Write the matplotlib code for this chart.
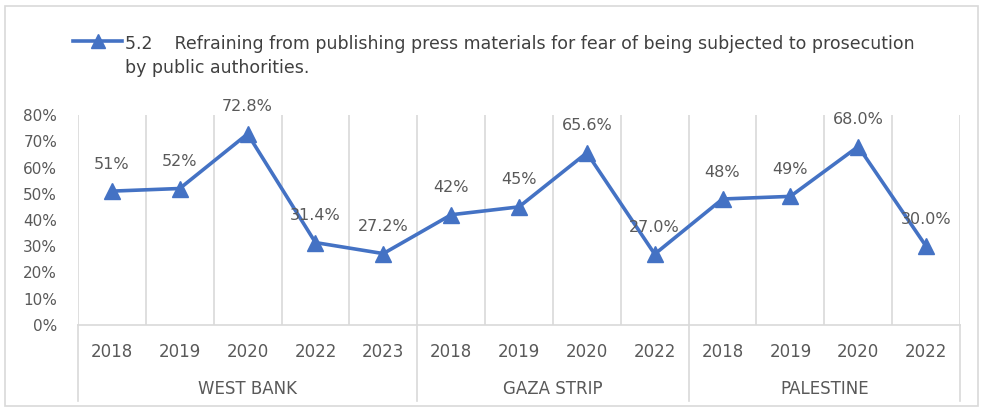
import matplotlib.pyplot as plt
from matplotlib.lines import Line2D
from matplotlib.patches import Rectangle

# data
years = ['2018', '2019', '2020', '2022', '2023',
         '2018', '2019', '2020', '2022',
         '2018', '2019', '2020', '2022']
groups = ['WEST BANK', 'GAZA STRIP', 'PALESTINE']
group_sizes = [5, 4, 4]
values = [0.51, 0.52, 0.728, 0.314, 0.272,
          0.42, 0.45, 0.656, 0.27,
          0.48, 0.49, 0.68, 0.30]
value_labels = ['51%', '52%', '72.8%', '31.4%', '27.2%',
                '42%', '45%', '65.6%', '27.0%',
                '48%', '49%', '68.0%', '30.0%']
series_lines = ['5.2    Refraining from publishing press materials for fear of being subjected to prosecution',
                'by public authorities.']

blue = '#4472C4'
grid_c = '#D9D9D9'
txt_c = '#595959'

plt.rcParams['font.family'] = ['DejaVu Sans']

fig = plt.figure(figsize=(9.85, 4.12), dpi=100)
ax = fig.add_axes([78 / 985, 1 - 325 / 412, (960 - 78) / 985, (325 - 115) / 412])

x = list(range(len(values)))
ax.plot(x, values, color=blue, lw=2.6, marker='^', ms=11, zorder=3)
for xi, v, lab in zip(x, values, value_labels):
    ax.annotate(lab, (xi, v), xytext=(0, 14), textcoords='offset points',
                ha='center', va='bottom', fontsize=11.5, color=txt_c)

ax.set_xlim(-0.5, len(values) - 0.5)
ax.set_ylim(0, 0.8)
ax.set_yticks([i / 10 for i in range(9)])
ax.set_yticklabels([f'{i * 10}%' for i in range(9)], fontsize=11, color=txt_c)
ax.tick_params(axis='y', length=0, pad=15)
ax.set_xticks([])
for s in ['top', 'right', 'left']:
    ax.spines[s].set_visible(False)
ax.spines['bottom'].set_color(grid_c)
ax.spines['bottom'].set_linewidth(1.2)

# vertical gridlines between categories
for b in range(len(values) + 1):
    ax.axvline(b - 0.5, color=grid_c, lw=1.2, zorder=1)

# multi-level category axis
trans = ax.get_xaxis_transform()
for xi, yr in zip(x, years):
    ax.text(xi, -0.13, yr, transform=trans, ha='center', va='center',
            fontsize=12, color=txt_c)
start = 0
bounds = [-0.5]
for g, n in zip(groups, group_sizes):
    ax.text(start + (n - 1) / 2, -0.305, g, transform=trans, ha='center', va='center',
            fontsize=12, color=txt_c)
    start += n
    bounds.append(start - 0.5)
for b in bounds:
    ax.plot([b, b], [0, -0.36], transform=trans, color=grid_c, lw=1.2, clip_on=False)

# legend drawn by hand at the top
fig.add_artist(Line2D([73 / 985, 122 / 985], [1 - 41 / 412] * 2, color=blue, lw=2.6))
fig.add_artist(Line2D([98 / 985], [1 - 41 / 412], color=blue, marker='^', ms=10))
for i, line in enumerate(series_lines):
    fig.text(125 / 985, 1 - (44 + 24 * i) / 412, line, ha='left', va='center',
             fontsize=12.5, color='#404040')

# outer chart border
fig.add_artist(Rectangle((5 / 985, 6 / 412), 973 / 985, 400 / 412, transform=fig.transFigure,
                         fill=False, edgecolor=grid_c, lw=1.2))

fig.savefig('out.png', dpi=100)
